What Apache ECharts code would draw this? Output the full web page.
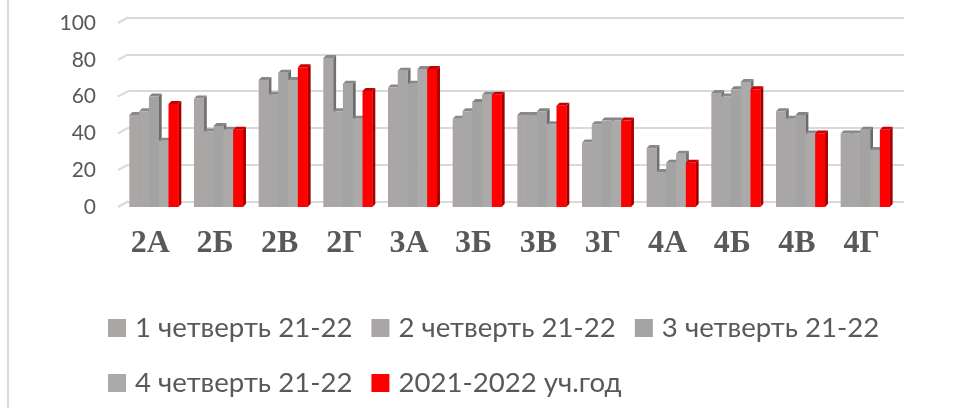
<!DOCTYPE html>
<html><head><meta charset="utf-8">
<script src="https://cdn.jsdelivr.net/npm/echarts@6/dist/echarts.min.js"></script>
<style>html,body{margin:0;padding:0;background:#fff}#c{width:957px;height:408px}</style>
</head><body><div id="c"></div>
<script>
const categories = ['2А','2Б','2В','2Г','3А','3Б','3В','3Г','4А','4Б','4В','4Г'];
const q1 = [50, 59, 69, 81, 65, 48, 50, 35, 32, 62, 52, 40];
const q2 = [52, 41, 61, 52, 74, 52, 50, 45, 19, 60, 48, 40];
const q3 = [60, 44, 73, 67, 67, 57, 52, 47, 24, 64, 50, 42];
const q4 = [36, 42, 69, 48, 75, 61, 45, 47, 29, 68, 40, 31];
const year = [56, 42, 76, 63, 75, 61, 55, 47, 24, 64, 40, 42];
const seriesNames = ['1 четверть 21-22','2 четверть 21-22','3 четверть 21-22','4 четверть 21-22','2021-2022 уч.год'];
const yTicks = [0, 20, 40, 60, 80, 100];

const allValues = [q1, q2, q3, q4, year];
const fronts = ['#aaa6a6', '#a9a6a6', '#a3a3a3', '#aca9a9', '#ff0000'];
const tops = ['#8a8888', '#8a8888', '#858585', '#8a8888', '#c80000'];
const sides = ['#707070', '#707070', '#6c6c6c', '#707070', '#a00000'];

function make3D(idx) {
  return function (params, api) {
    const c = api.value(0), v = api.value(1);
    const top = api.coord([c, v]);
    const base = api.coord([c, 0]);
    const band = api.size([1, 0])[0];
    const w = band * 0.1515;
    const x0 = top[0] - band * 0.325 + idx * w;
    const x1 = x0 + w;
    const yT = top[1], yB = base[1];
    const d = 3;
    return {
      type: 'group',
      children: [
        { type: 'polygon', shape: { points: [[x1, yB], [x1, yT], [x1 + d, yT - d], [x1 + d, yB - d]] }, style: { fill: sides[idx] } },
        { type: 'polygon', shape: { points: [[x0, yT], [x1, yT], [x1 + d, yT - d], [x0 + d, yT - d]] }, style: { fill: tops[idx] } },
        { type: 'rect', shape: { x: x0, y: yT, width: w + 0.3, height: yB - yT }, style: { fill: fronts[idx] } }
      ]
    };
  };
}

const series = allValues.map((arr, idx) => ({
  name: seriesNames[idx],
  type: 'custom',
  xAxisIndex: 0, yAxisIndex: 0,
  renderItem: make3D(idx),
  itemStyle: { color: fronts[idx] },
  encode: { x: 0, y: 1 },
  data: arr.map((v, i) => [i, v]),
  z: 3
}));

series.push({
  type: 'custom',
  xAxisIndex: 0, yAxisIndex: 0,
  silent: true,
  z: 1,
  renderItem: function (params, api) {
    const p = api.coord([0, api.value(0)]);
    const left = params.coordSys.x;
    return { type: 'line', shape: { x1: left, y1: p[1], x2: left + 10, y2: p[1] - 5.5 }, style: { stroke: '#d9d9d9', lineWidth: 2 } };
  },
  encode: { y: 0 },
  data: yTicks.map(v => [v])
});

const chart = echarts.init(document.getElementById('c'), null, { renderer: 'canvas' });
const legendText = { fontFamily: 'Lato', fontSize: 27.6, color: '#595959', padding: [0, 0, 0, 4] };
chart.setOption({
  animation: false,
  backgroundColor: '#ffffff',
  graphic: [{ type: 'line', shape: { x1: 8, y1: 0, x2: 8, y2: 408 }, style: { stroke: '#d9d9d9', lineWidth: 2 }, silent: true }],
  grid: [
    { left: 118, right: 63, top: 23, bottom: 201 },
    { left: 128, right: 53, top: 17.5, bottom: 206.5 }
  ],
  xAxis: [
    { type: 'category', gridIndex: 0, data: categories, axisLine: { show: false }, axisTick: { show: false },
      axisLabel: { fontFamily: 'Liberation Serif', fontWeight: 'bold', fontSize: 32, color: '#595959', margin: 21 } },
    { type: 'value', gridIndex: 1, show: false, min: 0, max: 1 }
  ],
  yAxis: [
    { type: 'value', gridIndex: 0, min: 0, max: 100, interval: 20, splitLine: { show: false },
      axisLine: { show: false }, axisTick: { show: false },
      axisLabel: { fontFamily: 'Lato', fontSize: 21, color: '#595959', margin: 22 } },
    { type: 'value', gridIndex: 1, min: 0, max: 100, interval: 20,
      axisLine: { show: false }, axisTick: { show: false }, axisLabel: { show: false },
      splitLine: { lineStyle: { color: '#d9d9d9', width: 2 } } }
  ],
  legend: [
    { data: seriesNames.slice(0, 3), left: 103, top: 309, icon: 'rect', itemWidth: 18, itemHeight: 18, itemGap: 19, textStyle: legendText },
    { data: seriesNames.slice(3), left: 103, top: 364, icon: 'rect', itemWidth: 18, itemHeight: 18, itemGap: 19, textStyle: legendText }
  ],
  series: series
});
</script></body></html>
